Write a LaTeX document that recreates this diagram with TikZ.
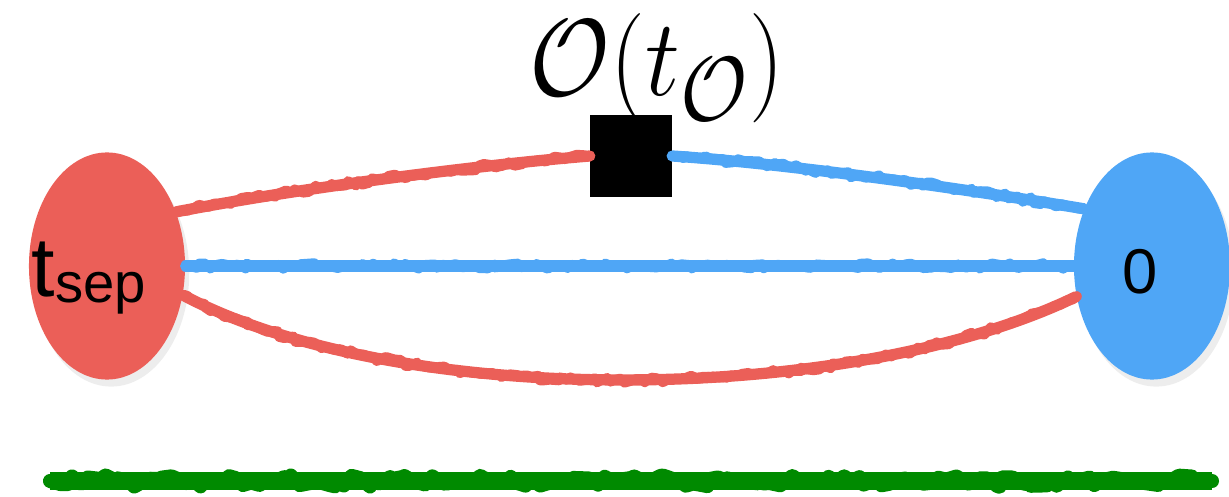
\documentclass[tikz,border=0pt]{standalone}
\usepackage{fontspec}
\usepackage{graphicx}
\newfontfamily\helv{Liberation Sans}
\usetikzlibrary{shapes.geometric,shadows,decorations.pathmorphing}
\definecolor{nred}{RGB}{235,95,88}
\definecolor{nblue}{RGB}{79,166,246}
\definecolor{ngreen}{RGB}{0,138,0}
\tikzset{
  blob/.style={ellipse, draw=none, inner sep=0pt, minimum width=1.56cm, minimum height=2.27cm,
    drop shadow={opacity=0.14, shadow xshift=1.2pt, shadow yshift=-2pt}},
  chalk/.style={draw=#1, line width=3.2pt, line cap=round,
    postaction={draw=#1, line width=2.6pt, line join=round, line cap=round, decorate,
      decoration={random steps, segment length=1.5pt, amplitude=0.9pt}}},
  greenchalk/.style={draw=ngreen, line width=5.4pt,
    postaction={draw=ngreen, line width=4pt, line join=round, line cap=round, decorate,
      decoration={random steps, segment length=2pt, amplitude=1.6pt}}},
  opbox/.style={fill=black, draw=none, minimum size=0.81cm, inner sep=0pt},
}
\pgfmathsetseed{7}
\begin{document}
\begin{tikzpicture}[x=0.01cm, y=-0.01cm]
\useasboundingbox (0,0) rectangle (1229,497);
% nodes
\node[blob, fill=nred] (L) at (107,266) {};
\node[blob, fill=nblue] (R) at (1152,266) {};
\node[opbox] (sq) at (631,156) {};
\node[anchor=base, inner sep=0pt] (lab) at (657,96)
  {\scalebox{1.12}[1.25]{\fontsize{24.88}{30}\selectfont $\mathcal{O}(t_{\mathcal{O}})$}};
\node[anchor=base west, inner sep=0pt] (Ltext) at (31,297)
  {\helv\fontsize{24}{24}\selectfont t\raisebox{-1.7pt}{\fontsize{16}{16}\selectfont sep}};
\node[anchor=base, inner sep=0pt] (Rtext) at (1140,293) {\helv\fontsize{18}{18}\selectfont 0};
% connectors
\draw[chalk=nred] (L.38) .. controls (300,188) and (480,165) .. (sq.west);
\draw[chalk=nblue] (sq.east) .. controls (780,163) and (960,188) .. (R.140);
\draw[chalk=nblue] (L.east) -- (R.west);
\draw[chalk=nred] (L.-21) .. controls (400,410) and (850,406) .. (R.-158);
% green line
\coordinate (g1) at (50,481);
\coordinate (g2) at (1212,481);
\draw[greenchalk] (g1) -- (g2);
\end{tikzpicture}
\end{document}
